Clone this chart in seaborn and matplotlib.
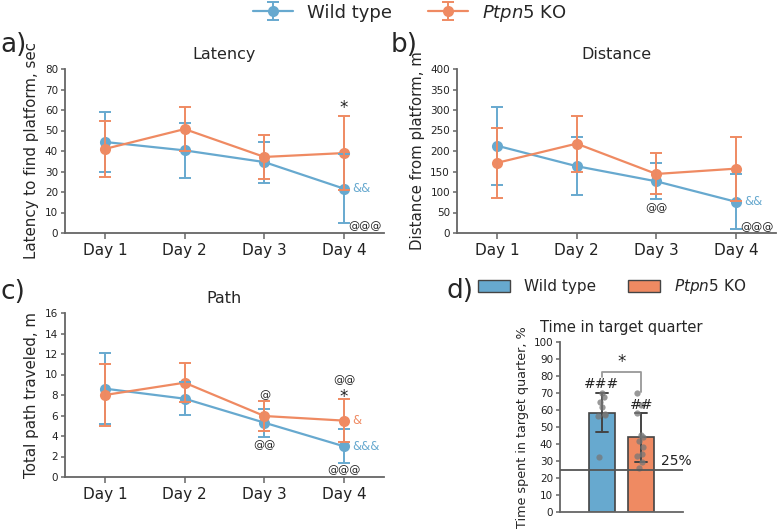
import numpy as np
import pandas as pd
import matplotlib.pyplot as plt
from matplotlib.patches import Patch
from matplotlib.lines import Line2D
import seaborn as sns

# ---- data ----
days = ['Day 1', 'Day 2', 'Day 3', 'Day 4']
groups = ['Wild type', 'Ptpn5 KO']

latency_wt = [44.4, 40.3, 34.6, 21.6]
latency_wt_sd = [14.5, 13.4, 10.0, 16.9]
latency_ko = [41.0, 50.7, 37.1, 39.0]
latency_ko_sd = [13.5, 10.9, 10.7, 17.9]

distance_wt = [213, 163, 126, 76]
distance_wt_sd = [95, 70, 44, 67]
distance_ko = [171, 218, 144, 157]
distance_ko_sd = [86, 68, 50, 78]

path_wt = [8.62, 7.64, 5.30, 2.99]
path_wt_sd = [3.48, 1.62, 1.37, 1.66]
path_ko = [8.00, 9.20, 5.95, 5.50]
path_ko_sd = [3.00, 1.92, 1.50, 2.08]

quarter_wt = [69.8, 67.5, 64.5, 62.0, 57.8, 57.3, 56.2, 32.6]
quarter_ko = [69.8, 63.0, 58.0, 45.3, 44.3, 41.5, 38.0, 34.0, 33.0, 29.6, 25.7]

c_wt = '#67a9cf'
c_ko = '#ef8a62'
palette = {groups[0]: c_wt, groups[1]: c_ko}
spine_col = '#666666'
txt_col = '#222222'

sns.set_style('ticks')
plt.rcParams['font.family'] = ['DejaVu Sans']

fig = plt.figure(figsize=(7.79, 5.30), dpi=100)
ax_a = fig.add_axes([65/779, 1-233/530, 319/779, 164/530])
ax_b = fig.add_axes([457/779, 1-233/530, 319/779, 164/530])
ax_c = fig.add_axes([65/779, 1-477/530, 319/779, 164/530])
ax_d = fig.add_axes([560/779, 1-512/530, 123/779, 170/530])


def line_panel(ax, wt, wt_sd, ko, ko_sd, title, ylabel, ymax, ystep):
    df = pd.DataFrame({
        'day': days * 2,
        'value': wt + ko,
        'group': [groups[0]] * len(days) + [groups[1]] * len(days),
    })
    sns.lineplot(data=df, x='day', y='value', hue='group', palette=palette,
                 marker='o', markersize=8, markeredgewidth=0, linewidth=1.6,
                 sort=False, legend=False, ax=ax)
    ebs = []
    for vals, sd, col in [(wt, wt_sd, c_wt), (ko, ko_sd, c_ko)]:
        eb = ax.errorbar(days, vals, yerr=sd, fmt='none', ecolor=col,
                         elinewidth=1.4, capsize=4.5, capthick=1.4)
        ebs.append(eb)
    ax.set_xlim(-0.5, 3.5)
    ax.set_ylim(0, ymax)
    ax.set_yticks(np.arange(0, ymax + 0.1, ystep))
    ax.set_title(title, fontsize=11.5, pad=7)
    ax.set_xlabel('')
    ax.set_ylabel(ylabel, fontsize=10.8, labelpad=4)
    ax.tick_params(axis='x', labelsize=11, colors=spine_col, labelcolor=txt_col, length=4, width=1.1)
    ax.tick_params(axis='y', labelsize=7.5, colors=spine_col, labelcolor=txt_col, length=3, width=1.1, pad=2)
    sns.despine(ax=ax)
    for s in ['left', 'bottom']:
        ax.spines[s].set_color(spine_col)
        ax.spines[s].set_linewidth(1.3)
    return ebs


ebs = line_panel(ax_a, latency_wt, latency_wt_sd, latency_ko, latency_ko_sd,
                 'Latency', 'Latency to find platform, sec', 80, 10)
line_panel(ax_b, distance_wt, distance_wt_sd, distance_ko, distance_ko_sd,
           'Distance', 'Distance from platform, m', 400, 50)
line_panel(ax_c, path_wt, path_wt_sd, path_ko, path_ko_sd,
           'Path', 'Total path traveled, m', 16, 2)

# annotations, panel a
ax_a.text(3, 61, '*', ha='center', va='center', fontsize=12, color=txt_col)
ax_a.text(3.1, 21.6, '&&', ha='left', va='center', fontsize=8.5, color=c_wt)
ax_a.text(3.26, 3.2, '@@@', ha='center', va='center', fontsize=8, color=txt_col)
# panel b
ax_b.text(2, 61, '@@', ha='center', va='center', fontsize=8, color=txt_col)
ax_b.text(3.1, 76, '&&', ha='left', va='center', fontsize=8.5, color=c_wt)
ax_b.text(3.26, 14.6, '@@@', ha='center', va='center', fontsize=8, color=txt_col)
# panel c
ax_c.text(2, 8.0, '@', ha='center', va='center', fontsize=8, color=txt_col)
ax_c.text(2, 3.1, '@@', ha='center', va='center', fontsize=8, color=txt_col)
ax_c.text(3, 9.5, '@@', ha='center', va='center', fontsize=8, color=txt_col)
ax_c.text(3, 7.8, '*', ha='center', va='center', fontsize=12, color=txt_col)
ax_c.text(3.1, 5.5, '&', ha='left', va='center', fontsize=8.5, color=c_ko)
ax_c.text(3.1, 3.0, '&&&', ha='left', va='center', fontsize=8.5, color=c_wt)
ax_c.text(3, 0.7, '@@@', ha='center', va='center', fontsize=8, color=txt_col)

# top legend
h_wt = (Line2D([], [], color=c_wt, marker='o', markersize=8, markeredgewidth=0, linewidth=1.6), ebs[0])
h_ko = (Line2D([], [], color=c_ko, marker='o', markersize=8, markeredgewidth=0, linewidth=1.6), ebs[1])
fig.legend([h_wt, h_ko], ['Wild type', r'$\it{Ptpn5}$ KO'], loc='center',
           bbox_to_anchor=(410/779, 1-13/530), ncol=2, frameon=False, fontsize=13,
           handlelength=2.2, handletextpad=0.8, columnspacing=2.0)

# ---- panel d ----
df_d = pd.DataFrame({
    'group': [groups[0]] * len(quarter_wt) + [groups[1]] * len(quarter_ko),
    'pct': quarter_wt + quarter_ko,
})
sns.barplot(data=df_d, x='group', y='pct', hue='group', palette=palette, saturation=1,
            errorbar='sd', capsize=0.3, width=0.65, edgecolor='#444444', linewidth=1.2,
            err_kws={'color': '#444444', 'linewidth': 1.4}, legend=False, ax=ax_d)
np.random.seed(3)
sns.stripplot(data=df_d, x='group', y='pct', color='#777777', alpha=0.75, size=4.5,
              jitter=0.12, ax=ax_d)
ax_d.axhline(25, color='#555555', linewidth=1.3, zorder=5)
ax_d.text(1.5, 25.8, '25%', ha='left', va='bottom', fontsize=10, color=txt_col)
ax_d.plot([0, 0, 1, 1], [79.5, 82.6, 82.6, 70.5], color='#999999', linewidth=1.3)
ax_d.text(0.5, 88, '*', ha='center', va='center', fontsize=12, color=txt_col)
ax_d.text(0, 71, '###', ha='center', va='bottom', fontsize=10, color=txt_col)
ax_d.text(1, 59, '##', ha='center', va='bottom', fontsize=10, color=txt_col)
ax_d.set_xlim(-1.05, 2.05)
ax_d.set_ylim(0, 100)
ax_d.set_yticks(np.arange(0, 101, 10))
ax_d.set_xticks([])
ax_d.set_xlabel('')
ax_d.set_ylabel('Time spent in target quarter, %', fontsize=9.2, labelpad=3)
ax_d.set_title('Time in target quarter', fontsize=10.5, pad=7)
ax_d.tick_params(axis='y', labelsize=7.5, colors=spine_col, labelcolor=txt_col, length=3, width=1.1, pad=2)
sns.despine(ax=ax_d)
for s in ['left', 'bottom']:
    ax_d.spines[s].set_color(spine_col)
    ax_d.spines[s].set_linewidth(1.3)

fig.legend([Patch(facecolor=c_wt, edgecolor='#444444'), Patch(facecolor=c_ko, edgecolor='#444444')],
           ['Wild type', r'$\it{Ptpn5}$ KO'], loc='center', bbox_to_anchor=(612/779, 1-287/530),
           ncol=2, frameon=False, fontsize=11, handlelength=2.1, handleheight=0.8,
           handletextpad=0.9, columnspacing=2.1)

# panel letters
fig.text(0.0, 1-45/530, 'a)', fontsize=19, va='center', ha='left')
fig.text(391/779, 1-45/530, 'b)', fontsize=19, va='center', ha='left')
fig.text(0.0, 1-292/530, 'c)', fontsize=19, va='center', ha='left')
fig.text(446/779, 1-291/530, 'd)', fontsize=19, va='center', ha='left')

fig.savefig('out.png', dpi=100)
